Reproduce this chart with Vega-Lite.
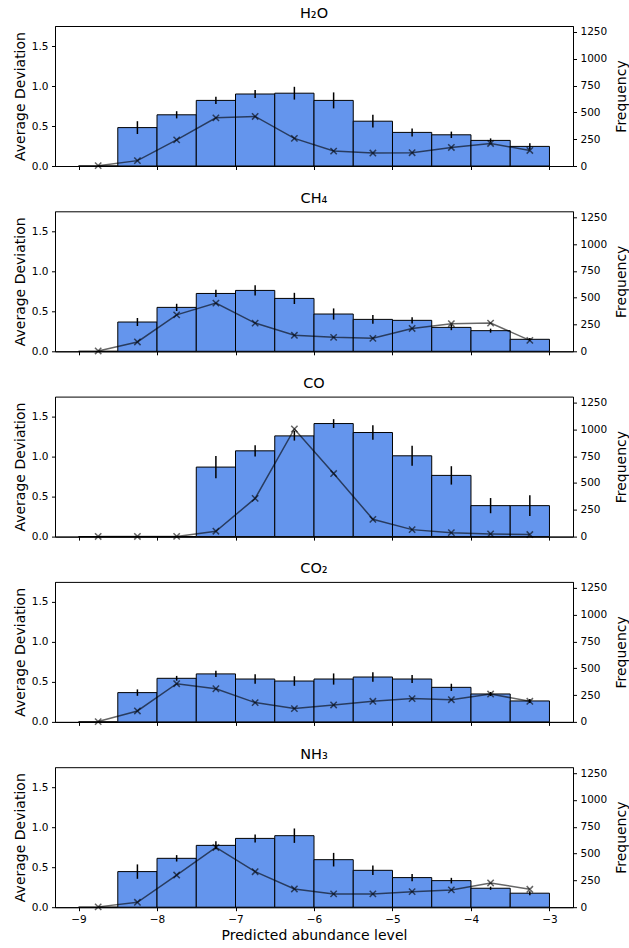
{
  "$schema": "https://vega.github.io/schema/vega-lite/v6.json",
  "datasets": {
    "d": [
      {"s": "H₂O", "x0": -9, "x1": -8.5, "xm": -8.75, "dev": 0, "elo": 0, "ehi": 0, "freq": 3},
      {"s": "H₂O", "x0": -8.5, "x1": -8, "xm": -8.25, "dev": 0.48, "elo": 0.40, "ehi": 0.56, "freq": 50},
      {"s": "H₂O", "x0": -8, "x1": -7.5, "xm": -7.75, "dev": 0.64, "elo": 0.595, "ehi": 0.685, "freq": 244},
      {"s": "H₂O", "x0": -7.5, "x1": -7, "xm": -7.25, "dev": 0.82, "elo": 0.775, "ehi": 0.865, "freq": 449},
      {"s": "H₂O", "x0": -7, "x1": -6.5, "xm": -6.75, "dev": 0.90, "elo": 0.85, "ehi": 0.95, "freq": 462},
      {"s": "H₂O", "x0": -6.5, "x1": -6, "xm": -6.25, "dev": 0.91, "elo": 0.83, "ehi": 0.99, "freq": 257},
      {"s": "H₂O", "x0": -6, "x1": -5.5, "xm": -5.75, "dev": 0.82, "elo": 0.72, "ehi": 0.92, "freq": 139},
      {"s": "H₂O", "x0": -5.5, "x1": -5, "xm": -5.25, "dev": 0.56, "elo": 0.48, "ehi": 0.64, "freq": 121},
      {"s": "H₂O", "x0": -5, "x1": -4.5, "xm": -4.75, "dev": 0.42, "elo": 0.37, "ehi": 0.47, "freq": 124},
      {"s": "H₂O", "x0": -4.5, "x1": -4, "xm": -4.25, "dev": 0.39, "elo": 0.35, "ehi": 0.43, "freq": 173},
      {"s": "H₂O", "x0": -4, "x1": -3.5, "xm": -3.75, "dev": 0.32, "elo": 0.295, "ehi": 0.345, "freq": 210},
      {"s": "H₂O", "x0": -3.5, "x1": -3, "xm": -3.25, "dev": 0.245, "elo": 0.205, "ehi": 0.285, "freq": 145},

      {"s": "CH₄", "x0": -9, "x1": -8.5, "xm": -8.75, "dev": 0, "elo": 0, "ehi": 0, "freq": 3},
      {"s": "CH₄", "x0": -8.5, "x1": -8, "xm": -8.25, "dev": 0.366, "elo": 0.316, "ehi": 0.416, "freq": 87},
      {"s": "CH₄", "x0": -8, "x1": -7.5, "xm": -7.75, "dev": 0.549, "elo": 0.504, "ehi": 0.594, "freq": 340},
      {"s": "CH₄", "x0": -7.5, "x1": -7, "xm": -7.25, "dev": 0.723, "elo": 0.678, "ehi": 0.768, "freq": 449},
      {"s": "CH₄", "x0": -7, "x1": -6.5, "xm": -6.75, "dev": 0.761, "elo": 0.696, "ehi": 0.826, "freq": 263},
      {"s": "CH₄", "x0": -6.5, "x1": -6, "xm": -6.25, "dev": 0.661, "elo": 0.591, "ehi": 0.731, "freq": 149},
      {"s": "CH₄", "x0": -6, "x1": -5.5, "xm": -5.75, "dev": 0.466, "elo": 0.396, "ehi": 0.536, "freq": 130},
      {"s": "CH₄", "x0": -5.5, "x1": -5, "xm": -5.25, "dev": 0.399, "elo": 0.344, "ehi": 0.454, "freq": 121},
      {"s": "CH₄", "x0": -5, "x1": -4.5, "xm": -4.75, "dev": 0.387, "elo": 0.347, "ehi": 0.427, "freq": 213},
      {"s": "CH₄", "x0": -4.5, "x1": -4, "xm": -4.25, "dev": 0.299, "elo": 0.264, "ehi": 0.334, "freq": 257},
      {"s": "CH₄", "x0": -4, "x1": -3.5, "xm": -3.75, "dev": 0.258, "elo": 0.233, "ehi": 0.283, "freq": 263},
      {"s": "CH₄", "x0": -3.5, "x1": -3, "xm": -3.25, "dev": 0.150, "elo": 0.135, "ehi": 0.165, "freq": 102},

      {"s": "CO", "x0": -9, "x1": -8.5, "xm": -8.75, "dev": 0, "elo": 0, "ehi": 0, "freq": 1},
      {"s": "CO", "x0": -8.5, "x1": -8, "xm": -8.25, "dev": 0, "elo": 0, "ehi": 0, "freq": 1},
      {"s": "CO", "x0": -8, "x1": -7.5, "xm": -7.75, "dev": 0, "elo": 0, "ehi": 0, "freq": 2},
      {"s": "CO", "x0": -7.5, "x1": -7, "xm": -7.25, "dev": 0.869, "elo": 0.729, "ehi": 1.009, "freq": 50},
      {"s": "CO", "x0": -7, "x1": -6.5, "xm": -6.75, "dev": 1.072, "elo": 1.002, "ehi": 1.142, "freq": 356},
      {"s": "CO", "x0": -6.5, "x1": -6, "xm": -6.25, "dev": 1.259, "elo": 1.2, "ehi": 1.32, "freq": 1003},
      {"s": "CO", "x0": -6, "x1": -5.5, "xm": -5.75, "dev": 1.413, "elo": 1.358, "ehi": 1.468, "freq": 588},
      {"s": "CO", "x0": -5.5, "x1": -5, "xm": -5.25, "dev": 1.301, "elo": 1.211, "ehi": 1.391, "freq": 161},
      {"s": "CO", "x0": -5, "x1": -4.5, "xm": -4.75, "dev": 1.010, "elo": 0.885, "ehi": 1.135, "freq": 65},
      {"s": "CO", "x0": -4.5, "x1": -4, "xm": -4.25, "dev": 0.765, "elo": 0.65, "ehi": 0.88, "freq": 37},
      {"s": "CO", "x0": -4, "x1": -3.5, "xm": -3.75, "dev": 0.387, "elo": 0.292, "ehi": 0.482, "freq": 25},
      {"s": "CO", "x0": -3.5, "x1": -3, "xm": -3.25, "dev": 0.387, "elo": 0.257, "ehi": 0.517, "freq": 19},

      {"s": "CO₂", "x0": -9, "x1": -8.5, "xm": -8.75, "dev": 0, "elo": 0, "ehi": 0, "freq": 3},
      {"s": "CO₂", "x0": -8.5, "x1": -8, "xm": -8.25, "dev": 0.366, "elo": 0.326, "ehi": 0.406, "freq": 102},
      {"s": "CO₂", "x0": -8, "x1": -7.5, "xm": -7.75, "dev": 0.545, "elo": 0.515, "ehi": 0.575, "freq": 356},
      {"s": "CO₂", "x0": -7.5, "x1": -7, "xm": -7.25, "dev": 0.60, "elo": 0.56, "ehi": 0.64, "freq": 309},
      {"s": "CO₂", "x0": -7, "x1": -6.5, "xm": -6.75, "dev": 0.536, "elo": 0.476, "ehi": 0.596, "freq": 180},
      {"s": "CO₂", "x0": -6.5, "x1": -6, "xm": -6.25, "dev": 0.511, "elo": 0.451, "ehi": 0.571, "freq": 124},
      {"s": "CO₂", "x0": -6, "x1": -5.5, "xm": -5.75, "dev": 0.536, "elo": 0.466, "ehi": 0.606, "freq": 158},
      {"s": "CO₂", "x0": -5.5, "x1": -5, "xm": -5.25, "dev": 0.561, "elo": 0.501, "ehi": 0.621, "freq": 192},
      {"s": "CO₂", "x0": -5, "x1": -4.5, "xm": -4.75, "dev": 0.536, "elo": 0.486, "ehi": 0.586, "freq": 217},
      {"s": "CO₂", "x0": -4.5, "x1": -4, "xm": -4.25, "dev": 0.432, "elo": 0.387, "ehi": 0.477, "freq": 207},
      {"s": "CO₂", "x0": -4, "x1": -3.5, "xm": -3.75, "dev": 0.349, "elo": 0.324, "ehi": 0.374, "freq": 260},
      {"s": "CO₂", "x0": -3.5, "x1": -3, "xm": -3.25, "dev": 0.262, "elo": 0.237, "ehi": 0.287, "freq": 192},

      {"s": "NH₃", "x0": -9, "x1": -8.5, "xm": -8.75, "dev": 0, "elo": 0, "ehi": 0, "freq": 3},
      {"s": "NH₃", "x0": -8.5, "x1": -8, "xm": -8.25, "dev": 0.445, "elo": 0.355, "ehi": 0.535, "freq": 46},
      {"s": "NH₃", "x0": -8, "x1": -7.5, "xm": -7.75, "dev": 0.611, "elo": 0.571, "ehi": 0.651, "freq": 300},
      {"s": "NH₃", "x0": -7.5, "x1": -7, "xm": -7.25, "dev": 0.773, "elo": 0.723, "ehi": 0.823, "freq": 557},
      {"s": "NH₃", "x0": -7, "x1": -6.5, "xm": -6.75, "dev": 0.860, "elo": 0.81, "ehi": 0.91, "freq": 331},
      {"s": "NH₃", "x0": -6.5, "x1": -6, "xm": -6.25, "dev": 0.894, "elo": 0.804, "ehi": 0.984, "freq": 170},
      {"s": "NH₃", "x0": -6, "x1": -5.5, "xm": -5.75, "dev": 0.594, "elo": 0.509, "ehi": 0.679, "freq": 124},
      {"s": "NH₃", "x0": -5.5, "x1": -5, "xm": -5.25, "dev": 0.461, "elo": 0.401, "ehi": 0.521, "freq": 124},
      {"s": "NH₃", "x0": -5, "x1": -4.5, "xm": -4.75, "dev": 0.370, "elo": 0.325, "ehi": 0.415, "freq": 145},
      {"s": "NH₃", "x0": -4.5, "x1": -4, "xm": -4.25, "dev": 0.332, "elo": 0.297, "ehi": 0.367, "freq": 161},
      {"s": "NH₃", "x0": -4, "x1": -3.5, "xm": -3.75, "dev": 0.237, "elo": 0.217, "ehi": 0.257, "freq": 226},
      {"s": "NH₃", "x0": -3.5, "x1": -3, "xm": -3.25, "dev": 0.175, "elo": 0.15, "ehi": 0.20, "freq": 167}
    ]
  },
  "data": {"name": "d"},
  "padding": {"left": 12, "top": 5, "right": 0, "bottom": 5},
  "bounds": "flush",
  "spacing": 45.3,
  "vconcat": [
    {
      "title": {"text": "H₂O", "fontWeight": "normal"}, "width": 518, "height": 140,
      "transform": [{"filter": "datum.s == 'H₂O'"}],
      "layer": [
        {"layer": [
          {"mark": {"type": "bar", "color": "#6495ED", "stroke": "black", "strokeWidth": 1},
           "encoding": {
             "x": {"field": "x0", "type": "quantitative", "scale": {"domain": [-9.3, -2.7], "nice": false, "zero": false}, "axis": {"values": [-9, -8, -7, -6, -5, -4, -3], "labels": false, "title": null}},
             "x2": {"field": "x1"},
             "y": {"field": "dev", "type": "quantitative", "scale": {"domain": [0, 1.75], "nice": false}, "axis": {"values": [0, 0.5, 1, 1.5], "format": ".1f", "title": "Average Deviation"}},
             "y2": {"datum": 0}}},
          {"mark": {"type": "rule", "color": "black", "strokeWidth": 1.5},
           "encoding": {
             "x": {"field": "xm", "type": "quantitative", "axis": {"values": [-9, -8, -7, -6, -5, -4, -3], "labels": false, "title": null}},
             "y": {"field": "elo", "type": "quantitative", "axis": {"values": [0, 0.5, 1, 1.5], "format": ".1f", "title": "Average Deviation"}}, "y2": {"field": "ehi"}}}
        ]},
        {"layer": [
          {"mark": {"type": "line", "color": "black", "opacity": 0.6, "strokeWidth": 1.5},
           "encoding": {
             "x": {"field": "xm", "type": "quantitative", "axis": {"values": [-9, -8, -7, -6, -5, -4, -3], "labels": false, "title": null}},
             "y": {"field": "freq", "type": "quantitative", "scale": {"domain": [0, 1305], "nice": false}, "axis": {"orient": "right", "values": [0, 250, 500, 750, 1000, 1250], "format": "d", "labelOverlap": false, "title": "Frequency", "titleAngle": 270, "titleBaseline": "top", "titlePadding": 8}}}},
          {"mark": {"type": "point", "shape": "M-1,-1L1,1M1,-1L-1,1", "filled": false, "color": "black", "opacity": 0.6, "size": 40, "strokeWidth": 1.5},
           "encoding": {
             "x": {"field": "xm", "type": "quantitative", "axis": {"values": [-9, -8, -7, -6, -5, -4, -3], "labels": false, "title": null}},
             "y": {"field": "freq", "type": "quantitative", "axis": {"orient": "right", "values": [0, 250, 500, 750, 1000, 1250], "format": "d", "labelOverlap": false, "title": "Frequency", "titleAngle": 270, "titleBaseline": "top", "titlePadding": 8}}}}
        ]}
      ],
      "resolve": {"scale": {"y": "independent"}}
    },
    {
      "title": {"text": "CH₄", "fontWeight": "normal"}, "width": 518, "height": 140,
      "transform": [{"filter": "datum.s == 'CH₄'"}],
      "layer": [
        {"layer": [
          {"mark": {"type": "bar", "color": "#6495ED", "stroke": "black", "strokeWidth": 1},
           "encoding": {
             "x": {"field": "x0", "type": "quantitative", "scale": {"domain": [-9.3, -2.7], "nice": false, "zero": false}, "axis": {"values": [-9, -8, -7, -6, -5, -4, -3], "labels": false, "title": null}},
             "x2": {"field": "x1"},
             "y": {"field": "dev", "type": "quantitative", "scale": {"domain": [0, 1.75], "nice": false}, "axis": {"values": [0, 0.5, 1, 1.5], "format": ".1f", "title": "Average Deviation"}},
             "y2": {"datum": 0}}},
          {"mark": {"type": "rule", "color": "black", "strokeWidth": 1.5},
           "encoding": {
             "x": {"field": "xm", "type": "quantitative", "axis": {"values": [-9, -8, -7, -6, -5, -4, -3], "labels": false, "title": null}},
             "y": {"field": "elo", "type": "quantitative", "axis": {"values": [0, 0.5, 1, 1.5], "format": ".1f", "title": "Average Deviation"}}, "y2": {"field": "ehi"}}}
        ]},
        {"layer": [
          {"mark": {"type": "line", "color": "black", "opacity": 0.6, "strokeWidth": 1.5},
           "encoding": {
             "x": {"field": "xm", "type": "quantitative", "axis": {"values": [-9, -8, -7, -6, -5, -4, -3], "labels": false, "title": null}},
             "y": {"field": "freq", "type": "quantitative", "scale": {"domain": [0, 1305], "nice": false}, "axis": {"orient": "right", "values": [0, 250, 500, 750, 1000, 1250], "format": "d", "labelOverlap": false, "title": "Frequency", "titleAngle": 270, "titleBaseline": "top", "titlePadding": 8}}}},
          {"mark": {"type": "point", "shape": "M-1,-1L1,1M1,-1L-1,1", "filled": false, "color": "black", "opacity": 0.6, "size": 40, "strokeWidth": 1.5},
           "encoding": {
             "x": {"field": "xm", "type": "quantitative", "axis": {"values": [-9, -8, -7, -6, -5, -4, -3], "labels": false, "title": null}},
             "y": {"field": "freq", "type": "quantitative", "axis": {"orient": "right", "values": [0, 250, 500, 750, 1000, 1250], "format": "d", "labelOverlap": false, "title": "Frequency", "titleAngle": 270, "titleBaseline": "top", "titlePadding": 8}}}}
        ]}
      ],
      "resolve": {"scale": {"y": "independent"}}
    },
    {
      "title": {"text": "CO", "fontWeight": "normal"}, "width": 518, "height": 140,
      "transform": [{"filter": "datum.s == 'CO'"}],
      "layer": [
        {"layer": [
          {"mark": {"type": "bar", "color": "#6495ED", "stroke": "black", "strokeWidth": 1},
           "encoding": {
             "x": {"field": "x0", "type": "quantitative", "scale": {"domain": [-9.3, -2.7], "nice": false, "zero": false}, "axis": {"values": [-9, -8, -7, -6, -5, -4, -3], "labels": false, "title": null}},
             "x2": {"field": "x1"},
             "y": {"field": "dev", "type": "quantitative", "scale": {"domain": [0, 1.75], "nice": false}, "axis": {"values": [0, 0.5, 1, 1.5], "format": ".1f", "title": "Average Deviation"}},
             "y2": {"datum": 0}}},
          {"mark": {"type": "rule", "color": "black", "strokeWidth": 1.5},
           "encoding": {
             "x": {"field": "xm", "type": "quantitative", "axis": {"values": [-9, -8, -7, -6, -5, -4, -3], "labels": false, "title": null}},
             "y": {"field": "elo", "type": "quantitative", "axis": {"values": [0, 0.5, 1, 1.5], "format": ".1f", "title": "Average Deviation"}}, "y2": {"field": "ehi"}}}
        ]},
        {"layer": [
          {"mark": {"type": "line", "color": "black", "opacity": 0.6, "strokeWidth": 1.5},
           "encoding": {
             "x": {"field": "xm", "type": "quantitative", "axis": {"values": [-9, -8, -7, -6, -5, -4, -3], "labels": false, "title": null}},
             "y": {"field": "freq", "type": "quantitative", "scale": {"domain": [0, 1305], "nice": false}, "axis": {"orient": "right", "values": [0, 250, 500, 750, 1000, 1250], "format": "d", "labelOverlap": false, "title": "Frequency", "titleAngle": 270, "titleBaseline": "top", "titlePadding": 8}}}},
          {"mark": {"type": "point", "shape": "M-1,-1L1,1M1,-1L-1,1", "filled": false, "color": "black", "opacity": 0.6, "size": 40, "strokeWidth": 1.5},
           "encoding": {
             "x": {"field": "xm", "type": "quantitative", "axis": {"values": [-9, -8, -7, -6, -5, -4, -3], "labels": false, "title": null}},
             "y": {"field": "freq", "type": "quantitative", "axis": {"orient": "right", "values": [0, 250, 500, 750, 1000, 1250], "format": "d", "labelOverlap": false, "title": "Frequency", "titleAngle": 270, "titleBaseline": "top", "titlePadding": 8}}}}
        ]}
      ],
      "resolve": {"scale": {"y": "independent"}}
    },
    {
      "title": {"text": "CO₂", "fontWeight": "normal"}, "width": 518, "height": 140,
      "transform": [{"filter": "datum.s == 'CO₂'"}],
      "layer": [
        {"layer": [
          {"mark": {"type": "bar", "color": "#6495ED", "stroke": "black", "strokeWidth": 1},
           "encoding": {
             "x": {"field": "x0", "type": "quantitative", "scale": {"domain": [-9.3, -2.7], "nice": false, "zero": false}, "axis": {"values": [-9, -8, -7, -6, -5, -4, -3], "labels": false, "title": null}},
             "x2": {"field": "x1"},
             "y": {"field": "dev", "type": "quantitative", "scale": {"domain": [0, 1.75], "nice": false}, "axis": {"values": [0, 0.5, 1, 1.5], "format": ".1f", "title": "Average Deviation"}},
             "y2": {"datum": 0}}},
          {"mark": {"type": "rule", "color": "black", "strokeWidth": 1.5},
           "encoding": {
             "x": {"field": "xm", "type": "quantitative", "axis": {"values": [-9, -8, -7, -6, -5, -4, -3], "labels": false, "title": null}},
             "y": {"field": "elo", "type": "quantitative", "axis": {"values": [0, 0.5, 1, 1.5], "format": ".1f", "title": "Average Deviation"}}, "y2": {"field": "ehi"}}}
        ]},
        {"layer": [
          {"mark": {"type": "line", "color": "black", "opacity": 0.6, "strokeWidth": 1.5},
           "encoding": {
             "x": {"field": "xm", "type": "quantitative", "axis": {"values": [-9, -8, -7, -6, -5, -4, -3], "labels": false, "title": null}},
             "y": {"field": "freq", "type": "quantitative", "scale": {"domain": [0, 1305], "nice": false}, "axis": {"orient": "right", "values": [0, 250, 500, 750, 1000, 1250], "format": "d", "labelOverlap": false, "title": "Frequency", "titleAngle": 270, "titleBaseline": "top", "titlePadding": 8}}}},
          {"mark": {"type": "point", "shape": "M-1,-1L1,1M1,-1L-1,1", "filled": false, "color": "black", "opacity": 0.6, "size": 40, "strokeWidth": 1.5},
           "encoding": {
             "x": {"field": "xm", "type": "quantitative", "axis": {"values": [-9, -8, -7, -6, -5, -4, -3], "labels": false, "title": null}},
             "y": {"field": "freq", "type": "quantitative", "axis": {"orient": "right", "values": [0, 250, 500, 750, 1000, 1250], "format": "d", "labelOverlap": false, "title": "Frequency", "titleAngle": 270, "titleBaseline": "top", "titlePadding": 8}}}}
        ]}
      ],
      "resolve": {"scale": {"y": "independent"}}
    },
    {
      "title": {"text": "NH₃", "fontWeight": "normal"}, "width": 518, "height": 140,
      "transform": [{"filter": "datum.s == 'NH₃'"}],
      "layer": [
        {"layer": [
          {"mark": {"type": "bar", "color": "#6495ED", "stroke": "black", "strokeWidth": 1},
           "encoding": {
             "x": {"field": "x0", "type": "quantitative", "scale": {"domain": [-9.3, -2.7], "nice": false, "zero": false}, "axis": {"values": [-9, -8, -7, -6, -5, -4, -3], "format": "d", "title": "Predicted abundance level"}},
             "x2": {"field": "x1"},
             "y": {"field": "dev", "type": "quantitative", "scale": {"domain": [0, 1.75], "nice": false}, "axis": {"values": [0, 0.5, 1, 1.5], "format": ".1f", "title": "Average Deviation"}},
             "y2": {"datum": 0}}},
          {"mark": {"type": "rule", "color": "black", "strokeWidth": 1.5},
           "encoding": {
             "x": {"field": "xm", "type": "quantitative", "axis": {"values": [-9, -8, -7, -6, -5, -4, -3], "format": "d", "title": "Predicted abundance level"}},
             "y": {"field": "elo", "type": "quantitative", "axis": {"values": [0, 0.5, 1, 1.5], "format": ".1f", "title": "Average Deviation"}}, "y2": {"field": "ehi"}}}
        ]},
        {"layer": [
          {"mark": {"type": "line", "color": "black", "opacity": 0.6, "strokeWidth": 1.5},
           "encoding": {
             "x": {"field": "xm", "type": "quantitative", "axis": {"values": [-9, -8, -7, -6, -5, -4, -3], "format": "d", "title": "Predicted abundance level"}},
             "y": {"field": "freq", "type": "quantitative", "scale": {"domain": [0, 1305], "nice": false}, "axis": {"orient": "right", "values": [0, 250, 500, 750, 1000, 1250], "format": "d", "labelOverlap": false, "title": "Frequency", "titleAngle": 270, "titleBaseline": "top", "titlePadding": 8}}}},
          {"mark": {"type": "point", "shape": "M-1,-1L1,1M1,-1L-1,1", "filled": false, "color": "black", "opacity": 0.6, "size": 40, "strokeWidth": 1.5},
           "encoding": {
             "x": {"field": "xm", "type": "quantitative", "axis": {"values": [-9, -8, -7, -6, -5, -4, -3], "format": "d", "title": "Predicted abundance level"}},
             "y": {"field": "freq", "type": "quantitative", "axis": {"orient": "right", "values": [0, 250, 500, 750, 1000, 1250], "format": "d", "labelOverlap": false, "title": "Frequency", "titleAngle": 270, "titleBaseline": "top", "titlePadding": 8}}}}
        ]}
      ],
      "resolve": {"scale": {"y": "independent"}}
    }
  ],
  "config": {
    "font": "DejaVu Sans",
    "view": {"stroke": "black", "strokeWidth": 1},
    "axis": {"grid": false, "domainColor": "black", "tickColor": "black", "labelColor": "black", "titleColor": "black", "labelFontSize": 10.5, "titleFontSize": 14, "titleFontWeight": "normal", "tickSize": 3.5, "labelPadding": 3.5, "labelFont": "DejaVu Sans", "titleFont": "DejaVu Sans"},
    "title": {"fontSize": 14.5, "fontWeight": "normal", "font": "DejaVu Sans", "color": "black", "offset": 5},
    "style": {"group-title": {"fontWeight": "normal", "fontSize": 14.5}}
  }
}
